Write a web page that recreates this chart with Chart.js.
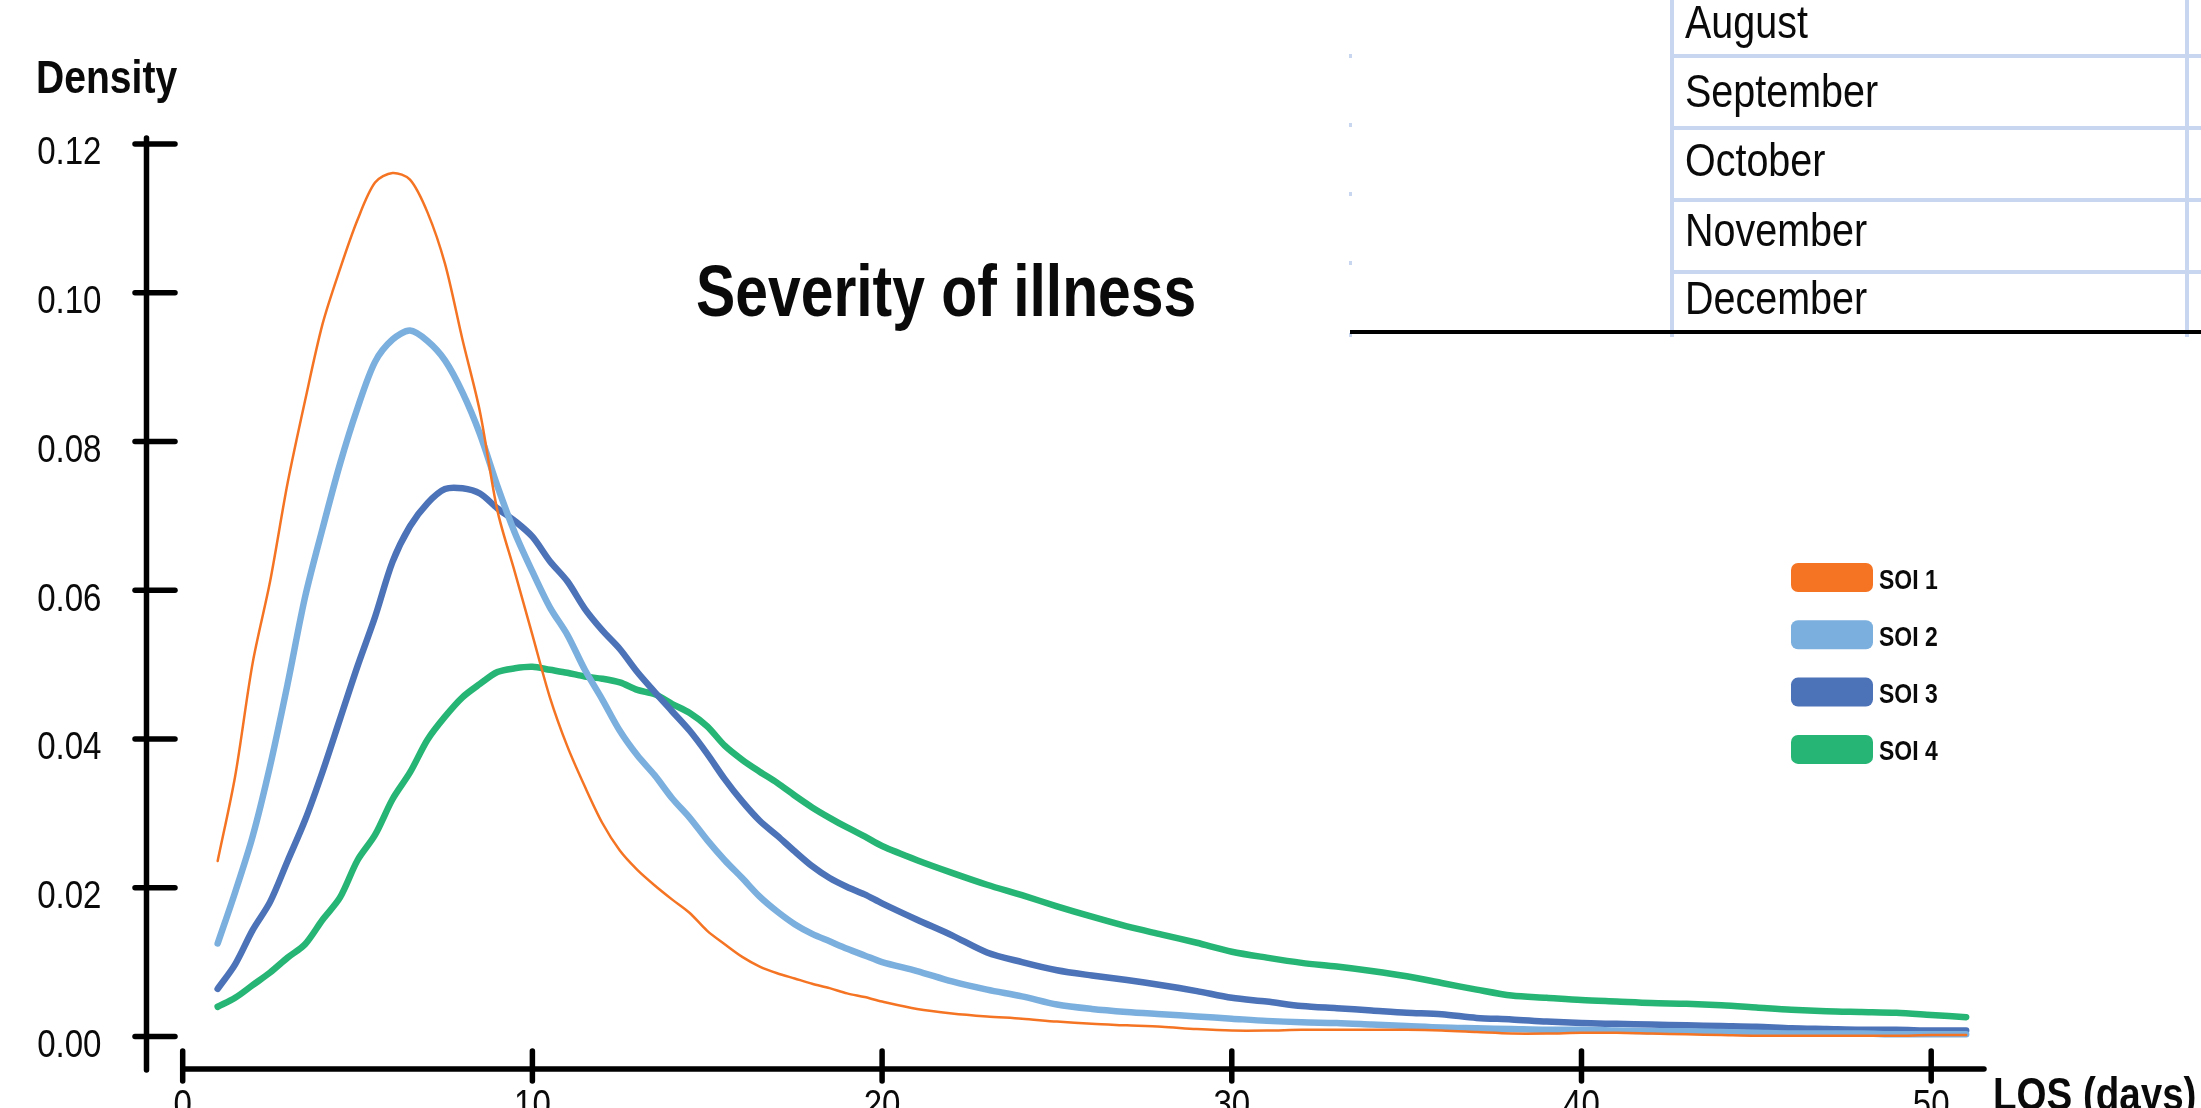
<!DOCTYPE html>
<html>
<head>
<meta charset="utf-8">
<script src="https://cdn.jsdelivr.net/npm/chart.js@4.4.1/dist/chart.umd.min.js"></script>
<style>
  html, body { margin: 0; padding: 0; background: #fff; overflow: hidden; }
  #wrap { width: 2201px; height: 1108px; }
</style>
</head>
<body>
<div id="wrap"><canvas id="losChart" width="2201" height="1108"></canvas></div>
<script>
// length of stay (days) at which the densities were read
const losDays = [1, 1.5, 2, 2.5, 3, 3.5, 4, 4.5, 5, 5.5, 6, 6.5, 7, 7.5, 8, 8.5, 9, 9.5, 10, 10.5,
  11, 11.5, 12, 12.5, 13, 13.5, 14, 14.5, 15, 15.5, 16, 16.5, 17, 17.5, 18, 18.5, 19, 19.5, 20,
  21, 22, 23, 24, 25, 26, 27, 28, 29, 30, 31, 32, 33, 34, 35, 36, 37, 38, 39, 40,
  41, 42, 43, 44, 45, 46, 47, 48, 49, 50, 51];

const soi1 = [0.0236, 0.0350, 0.0502, 0.0612, 0.0744, 0.0855, 0.0958, 0.1032, 0.1098, 0.1148,
  0.1161, 0.1152, 0.1108, 0.1039, 0.0937, 0.0840, 0.0707, 0.0624, 0.0540, 0.0456,
  0.0390, 0.0336, 0.0287, 0.0250, 0.0224, 0.0203, 0.0184, 0.0166, 0.0142, 0.0124,
  0.0107, 0.0094, 0.0085, 0.0078, 0.0071, 0.0065, 0.0058, 0.0053, 0.0047,
  0.0037, 0.0031, 0.0027, 0.0024, 0.0020, 0.0017, 0.0015, 0.0013, 0.0010, 0.0008,
  0.0008, 0.0009, 0.0009, 0.0009, 0.0009, 0.0008, 0.0006, 0.0004, 0.0004, 0.0005,
  0.0005, 0.0004, 0.0003, 0.0002, 0.0001, 0.0001, 0.0001, 0.0001, 0.0001, 0.0002, 0.0002];

const soi2 = [0.0125, 0.0194, 0.0269, 0.0364, 0.0474, 0.0591, 0.0683, 0.0770, 0.0845, 0.0907,
  0.0937, 0.0949, 0.0935, 0.0909, 0.0866, 0.0810, 0.0740, 0.0677, 0.0625, 0.0577,
  0.0540, 0.0493, 0.0453, 0.0411, 0.0378, 0.0351, 0.0320, 0.0294, 0.0264, 0.0237,
  0.0213, 0.0188, 0.0168, 0.0151, 0.0138, 0.0128, 0.0118, 0.0109, 0.0100,
  0.0088, 0.0074, 0.0063, 0.0054, 0.0043, 0.0037, 0.0033, 0.0030, 0.0027, 0.0024,
  0.0021, 0.0019, 0.0018, 0.0016, 0.0014, 0.0012, 0.0011, 0.0010, 0.0009, 0.0009,
  0.0008, 0.0007, 0.0007, 0.0006, 0.0005, 0.0004, 0.0004, 0.0004, 0.0003, 0.0003, 0.0003];

const soi3 = [0.0064, 0.0097, 0.0143, 0.0181, 0.0236, 0.0291, 0.0356, 0.0427, 0.0498, 0.0564,
  0.0638, 0.0686, 0.0717, 0.0736, 0.0737, 0.0730, 0.0710, 0.0693, 0.0672, 0.0639,
  0.0612, 0.0575, 0.0546, 0.0521, 0.0490, 0.0463, 0.0437, 0.0411, 0.0380, 0.0346,
  0.0316, 0.0290, 0.0270, 0.0249, 0.0229, 0.0213, 0.0201, 0.0191, 0.0179,
  0.0157, 0.0136, 0.0113, 0.0100, 0.0089, 0.0082, 0.0076, 0.0069, 0.0061, 0.0052,
  0.0047, 0.0041, 0.0038, 0.0035, 0.0032, 0.0030, 0.0025, 0.0023, 0.0020, 0.0018,
  0.0017, 0.0016, 0.0015, 0.0014, 0.0013, 0.0011, 0.0010, 0.0009, 0.0009, 0.0008, 0.0008];

const soi4 = [0.0040, 0.0052, 0.0069, 0.0086, 0.0106, 0.0124, 0.0157, 0.0187, 0.0237, 0.0271,
  0.0319, 0.0355, 0.0399, 0.0430, 0.0456, 0.0474, 0.0490, 0.0495, 0.0497, 0.0493,
  0.0489, 0.0484, 0.0481, 0.0476, 0.0466, 0.0460, 0.0447, 0.0435, 0.0417, 0.0391,
  0.0372, 0.0356, 0.0341, 0.0324, 0.0308, 0.0294, 0.0281, 0.0269, 0.0256,
  0.0237, 0.0220, 0.0204, 0.0190, 0.0175, 0.0161, 0.0148, 0.0137, 0.0126, 0.0114,
  0.0106, 0.0099, 0.0094, 0.0088, 0.0081, 0.0072, 0.0063, 0.0055, 0.0052, 0.0049,
  0.0047, 0.0045, 0.0044, 0.0042, 0.0039, 0.0036, 0.0034, 0.0033, 0.0032, 0.0029, 0.0026];

const seriesNames = ['SOI 1', 'SOI 2', 'SOI 3', 'SOI 4'];
const seriesColors = ['#f47424', '#7bafde', '#4c72b8', '#26b574'];
const yTicks = [0, 0.02, 0.04, 0.06, 0.08, 0.10, 0.12];
const xTicks = [0, 10, 20, 30, 40, 50];
const tableMonths = ['August', 'September', 'October', 'November', 'December'];

// no condensed face is installed, so Liberation Sans gets squeezed sideways
const FONT = "'Liberation Sans', Arial, sans-serif";
const NARROW = 0.83;
const INK = '#0a0a0a';

function narrowText(ctx, text, x, y, font, align, squeeze) {
  const sx = squeeze || NARROW;
  ctx.save();
  ctx.font = font;
  ctx.textAlign = 'left';
  const w = ctx.measureText(text).width * sx;
  let left = x;
  if (align === 'right') left = x - w;
  else if (align === 'center') left = x - w / 2;
  ctx.translate(left, y);
  ctx.scale(sx, 1);
  ctx.fillText(text, 0, 0);
  ctx.restore();
}

function roundedBox(ctx, x, y, w, h, r) {
  ctx.beginPath();
  ctx.moveTo(x + r, y);
  ctx.arcTo(x + w, y, x + w, y + h, r);
  ctx.arcTo(x + w, y + h, x, y + h, r);
  ctx.arcTo(x, y + h, x, y, r);
  ctx.arcTo(x, y, x + w, y, r);
  ctx.closePath();
}

// axes, titles, legend and the stray table piece at the top right
const decorPlugin = {
  id: 'decor',
  afterDraw(chart) {
    const { ctx, chartArea, scales } = chart;
    const xs = scales.x, ys = scales.y;
    ctx.save();

    // detached axes
    ctx.strokeStyle = '#000';
    ctx.lineWidth = 5.5;
    ctx.lineCap = 'round';
    const ax = chartArea.left;
    ctx.beginPath();
    ctx.moveTo(ax, chartArea.top + 3);
    ctx.lineTo(ax, chartArea.bottom + 1);
    ctx.stroke();
    ys.ticks.forEach(t => {
      const py = ys.getPixelForValue(t.value);
      ctx.beginPath();
      ctx.moveTo(ax - 11.5, py);
      ctx.lineTo(ax + 28.5, py);
      ctx.stroke();
    });
    const ay = chartArea.bottom;
    ctx.beginPath();
    ctx.moveTo(xs.getPixelForValue(0), ay);
    ctx.lineTo(chartArea.right, ay);
    ctx.stroke();
    xs.ticks.forEach(t => {
      const px = xs.getPixelForValue(t.value);
      ctx.beginPath();
      ctx.moveTo(px, ay - 18);
      ctx.lineTo(px, ay + 12);
      ctx.stroke();
    });

    // tick labels
    ctx.fillStyle = INK;
    ctx.textBaseline = 'middle';
    ys.ticks.forEach(t => {
      narrowText(ctx, t.value.toFixed(2), ax - 45, ys.getPixelForValue(t.value) + 10,
        '38px ' + FONT, 'right', 0.87);
    });
    ctx.textBaseline = 'alphabetic';
    xs.ticks.forEach(t => {
      narrowText(ctx, String(t.value), xs.getPixelForValue(t.value), ay + 48,
        '38px ' + FONT, 'center', 0.87);
    });

    // titles
    narrowText(ctx, 'Density', 36, 93, 'bold 46px ' + FONT, 'left', 0.85);
    narrowText(ctx, 'Severity of illness', 696, 316, 'bold 72px ' + FONT, 'left', 0.817);
    narrowText(ctx, 'LOS (days)', 1993, 1110, 'bold 47px ' + FONT, 'left', 0.82);

    // legend
    chart.data.datasets.forEach((ds, i) => {
      const top = 563 + i * 57.3;
      ctx.fillStyle = ds.borderColor;
      roundedBox(ctx, 1791, top, 82, 29, 7);
      ctx.fill();
      ctx.fillStyle = INK;
      narrowText(ctx, ds.label, 1879, top + 25.5, 'bold 28px ' + FONT, 'left', 0.82);
    });

    // table fragment
    ctx.strokeStyle = '#c8d6ef';
    ctx.lineWidth = 4;
    ctx.lineCap = 'butt';
    [56, 128, 200, 272].forEach(ly => {
      ctx.beginPath();
      ctx.moveTo(1672, ly);
      ctx.lineTo(2201, ly);
      ctx.stroke();
    });
    [1672, 2187].forEach(lx => {
      ctx.beginPath();
      ctx.moveTo(lx, 0);
      ctx.lineTo(lx, 337);
      ctx.stroke();
    });
    ctx.fillStyle = '#c8d6ef';
    [56, 125, 194, 263, 335].forEach(dy => ctx.fillRect(1349, dy - 2, 3, 4));
    ctx.strokeStyle = '#000';
    ctx.beginPath();
    ctx.moveTo(1350, 332);
    ctx.lineTo(2201, 332);
    ctx.stroke();
    ctx.fillStyle = INK;
    const baselines = [38, 107, 176, 246, 314];
    tableMonths.forEach((m, i) => narrowText(ctx, m, 1685, baselines[i], '47px ' + FONT, 'left', 0.84));

    ctx.restore();
  }
};

const allSeries = [soi1, soi2, soi3, soi4];
const datasets = allSeries.map((vals, i) => ({
  label: seriesNames[i],
  data: losDays.map((d, j) => ({ x: d, y: vals[j] })),
  borderColor: seriesColors[i],
  backgroundColor: seriesColors[i],
  borderWidth: i === 0 ? 2.5 : 6.5,
  pointRadius: 0,
  tension: 0.3,
  fill: false,
  borderJoinStyle: 'round',
  borderCapStyle: 'round'
}));

new Chart(document.getElementById('losChart'), {
  type: 'line',
  data: { datasets: datasets },
  options: {
    responsive: false,
    animation: false,
    layout: { padding: { left: 0, top: 135, right: 217, bottom: 0 } },
    plugins: { legend: { display: false }, tooltip: { enabled: false } },
    scales: {
      x: {
        type: 'linear',
        min: -1.035,
        max: 51.51,
        grid: { display: false, drawTicks: false },
        border: { display: false },
        ticks: { display: false },
        afterBuildTicks: s => { s.ticks = xTicks.map(v => ({ value: v })); },
        afterFit: s => { s.height = 39; }
      },
      y: {
        type: 'linear',
        min: -0.00437,
        max: 0.1212,
        grid: { display: false, drawTicks: false },
        border: { display: false },
        ticks: { display: false },
        afterBuildTicks: s => { s.ticks = yTicks.map(v => ({ value: v })); },
        afterFit: s => { s.width = 146.5; }
      }
    }
  },
  plugins: [decorPlugin]
});
</script>
</body>
</html>
